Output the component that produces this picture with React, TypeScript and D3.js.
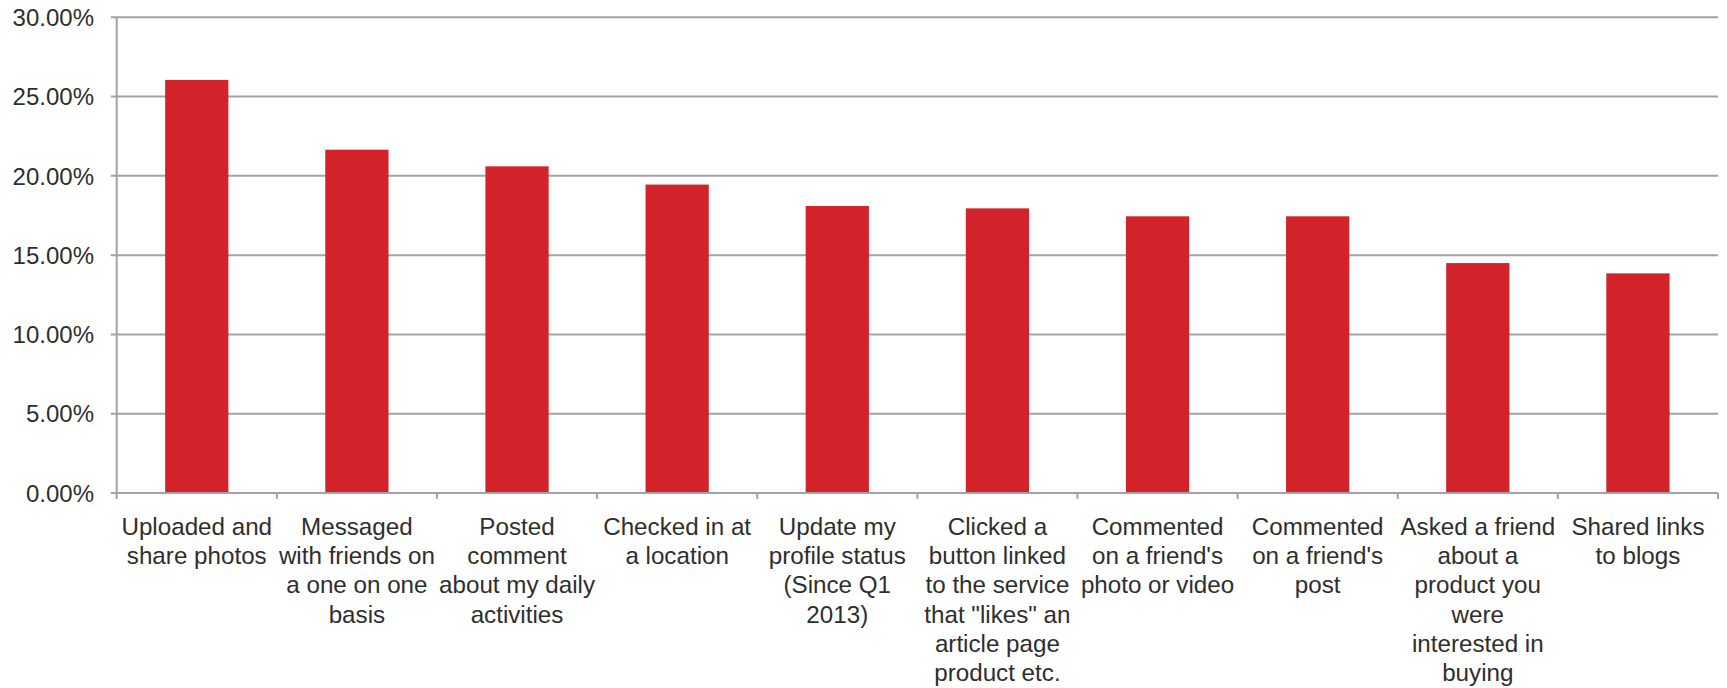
import React from "react";
import * as d3 from "d3";

const categories: string[] = [
  "Uploaded and\nshare photos",
  "Messaged\nwith friends on\na one on one\nbasis",
  "Posted\ncomment\nabout my daily\nactivities",
  "Checked in at\na location",
  "Update my\nprofile status\n(Since Q1\n2013)",
  "Clicked a\nbutton linked\nto the service\nthat \"likes\" an\narticle page\nproduct etc.",
  "Commented\non a friend's\nphoto or video",
  "Commented\non a friend's\npost",
  "Asked a friend\nabout a\nproduct you\nwere\ninterested in\nbuying",
  "Shared links\nto blogs",
];

const values: number[] = [0.2605, 0.2165, 0.206, 0.1945, 0.181, 0.1795, 0.1745, 0.1745, 0.145, 0.1385];

const yTicks: number[] = [0, 0.05, 0.1, 0.15, 0.2, 0.25, 0.3];

const W = 1727;
const H = 688;
const left = 116.7;
const right = 1718;
const top = 17.3;
const bottom = 493;

const BAR = "#d2232a";
const GRID = "#a3a3a3";
const TEXT = "#2e2e2e";
const FONT = "'Liberation Sans', Arial, sans-serif";

export default function App() {
  const x = d3
    .scaleBand<string>()
    .domain(categories)
    .range([left, right])
    .paddingInner(0.605)
    .paddingOuter(0.3025);
  const y = d3.scaleLinear().domain([0, 0.3]).range([bottom, top]);
  const fmt = d3.format(".2%");

  const step = x.step();
  const boundaries = categories.map((c) => (x(c) as number) + x.bandwidth() / 2 - step / 2);
  boundaries.push(boundaries[boundaries.length - 1] + step);

  const labelY0 = 535;
  const lineH = 29.2;

  return (
    <div style={{ position: "absolute", left: 0, top: 0, width: W, height: H, background: "#fff" }}>
      <svg width={W} height={H} style={{ display: "block" }}>
        <rect x={0} y={0} width={W} height={H} fill="#ffffff" />
        {yTicks.map((t) => (
          <line
            key={"g" + t}
            x1={left - 6}
            x2={right}
            y1={y(t)}
            y2={y(t)}
            stroke={GRID}
            strokeWidth={2}
          />
        ))}
        <line x1={left} x2={left} y1={top} y2={bottom} stroke={GRID} strokeWidth={2} />
        {yTicks.map((t) => (
          <text
            key={"yt" + t}
            x={94}
            y={y(t)}
            dy="0.36em"
            textAnchor="end"
            fontFamily={FONT}
            fontSize={24}
            fill={TEXT}
          >
            {fmt(t)}
          </text>
        ))}
        {categories.map((c, i) => (
          <rect
            key={"b" + i}
            x={x(c) as number}
            y={y(values[i])}
            width={x.bandwidth()}
            height={y(0) - y(values[i])}
            fill={BAR}
          />
        ))}
        <line x1={left} x2={right} y1={bottom} y2={bottom} stroke={GRID} strokeWidth={2} />
        {boundaries.map((b, i) => (
          <line key={"xt" + i} x1={b} x2={b} y1={bottom} y2={bottom + 6} stroke={GRID} strokeWidth={2} />
        ))}
        {categories.map((c, i) => (
          <text
            key={"xl" + i}
            x={(x(c) as number) + x.bandwidth() / 2}
            y={labelY0}
            textAnchor="middle"
            fontFamily={FONT}
            fontSize={24.2}
            fill={TEXT}
          >
            {c.split("\n").map((line, j) => (
              <tspan key={j} x={(x(c) as number) + x.bandwidth() / 2} y={labelY0 + j * lineH}>
                {line}
              </tspan>
            ))}
          </text>
        ))}
      </svg>
    </div>
  );
}
